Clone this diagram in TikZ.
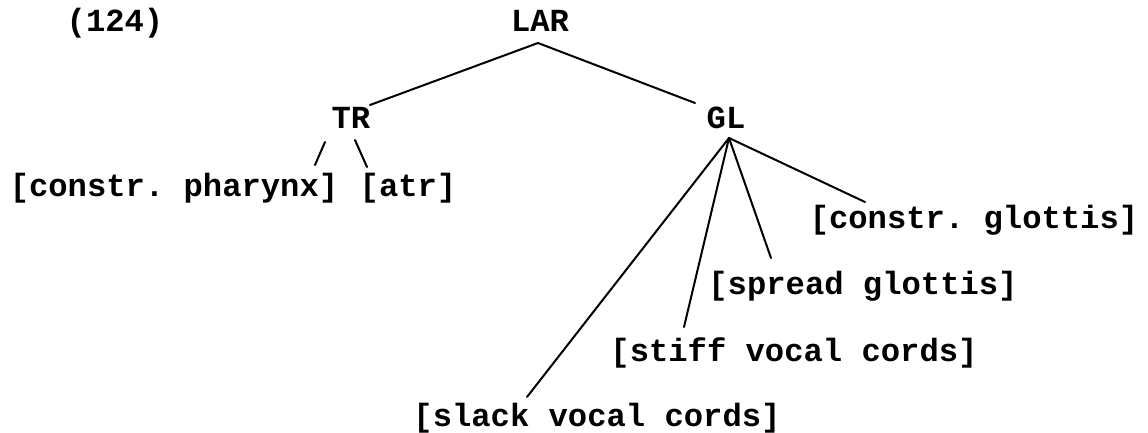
\documentclass[tikz,border=0pt]{standalone}
\usepackage{fontspec}
\setmonofont{Liberation Mono}
\begin{document}
\begin{tikzpicture}[x=0.5pt,y=-0.5pt,
  lbl/.style={inner sep=0pt, anchor=base, font=\ttfamily\bfseries\fontsize{16.1}{18}\selectfont},
  edge/.style={line width=1pt, line cap=round}]
\useasboundingbox (0,0) rectangle (1148,433);
\node[lbl] (num) at (115,32) {(124)};
\node[lbl] (LAR) at (540,32) {LAR};
\node[lbl] (TR) at (351,129) {TR};
\node[lbl] (GL) at (726,129) {GL};
\node[lbl] (cph) at (174,197) {[constr. pharynx]};
\node[lbl] (atr) at (408,197) {[atr]};
\node[lbl] (cgl) at (974,229) {[constr. glottis]};
\node[lbl] (sgl) at (863,294) {[spread glottis]};
\node[lbl] (stf) at (794,362) {[stiff vocal cords]};
\node[lbl] (slk) at (597,427) {[slack vocal cords]};
\draw[edge] ([shift={(19,-24)}]TR.base) -- ([shift={(-2,11)}]LAR.base) -- ([shift={(-31,-26)}]GL.base);
\draw[edge] ([shift={(-26,13)}]TR.base) -- ([shift={(141,-32)}]cph.base);
\draw[edge] ([shift={(4,11)}]TR.base) -- ([shift={(-41,-30)}]atr.base);
\draw[edge] ([shift={(3,9)}]GL.base) -- ([shift={(-109,-27)}]cgl.base);
\draw[edge] ([shift={(3,9)}]GL.base) -- ([shift={(-92,-36)}]sgl.base);
\draw[edge] ([shift={(3,9)}]GL.base) -- ([shift={(-110,-35)}]stf.base);
\draw[edge] ([shift={(3,9)}]GL.base) -- ([shift={(-70,-30)}]slk.base);
\end{tikzpicture}
\end{document}
